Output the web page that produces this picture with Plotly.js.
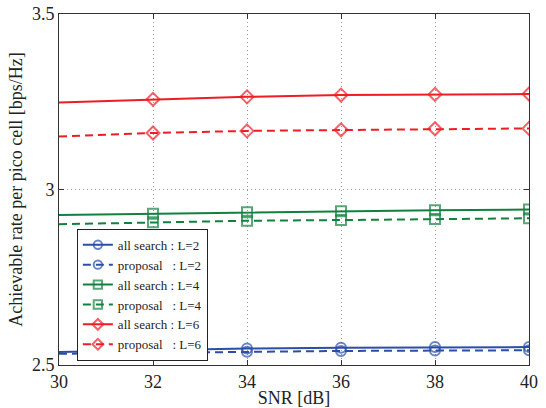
<!DOCTYPE html>
<html>
<head>
<meta charset="utf-8">
<script src="https://cdn.plot.ly/plotly-3.0.1.min.js"></script>
<style>html,body{margin:0;padding:0;background:#fff}#chart{width:546px;height:408px}</style>
</head>
<body>
<div id="chart"></div>
<script>
const snr = [30, 32, 34, 36, 38, 40];
const allSearchL2 = [2.537, 2.543, 2.547, 2.549, 2.551, 2.551];
const proposalL2  = [2.532, 2.535, 2.538, 2.540, 2.541, 2.542];
const allSearchL4 = [2.927, 2.931, 2.935, 2.938, 2.941, 2.943];
const proposalL4  = [2.901, 2.907, 2.911, 2.913, 2.916, 2.918];
const allSearchL6 = [3.248, 3.257, 3.264, 3.269, 3.271, 3.272];
const proposalL6  = [3.151, 3.161, 3.167, 3.170, 3.173, 3.174];
const seriesNames = [
  "all search : L=2", "proposal \u00a0\u00a0: L=2",
  "all search : L=4", "proposal \u00a0\u00a0: L=4",
  "all search : L=6", "proposal \u00a0\u00a0: L=6"
];
const xTicks = [30, 32, 34, 36, 38, 40];
const yTicks = [2.5, 3, 3.5];

const blue = "#2b4ea8", green = "#12813f", red = "#ee1d25";
const msizes = snr.map((v, i) => i === 0 ? 0 : 10);
function tr(y, name, color, dash, symbol) {
  return {
    x: snr, y: y, name: name, type: "scatter", mode: "lines+markers",
    line: {color: color, width: 2, dash: dash},
    marker: {symbol: symbol, size: msizes, color: color, line: {color: color, width: 2}}
  };
}
const DASH = "8px,5px";
const data = [
  tr(allSearchL2, seriesNames[0], blue, "solid", "circle-open"),
  tr(proposalL2, seriesNames[1], blue, DASH, "circle-open"),
  tr(allSearchL4, seriesNames[2], green, "solid", "square-open"),
  tr(proposalL4, seriesNames[3], green, DASH, "square-open"),
  tr(allSearchL6, seriesNames[4], red, "solid", "diamond-open"),
  tr(proposalL6, seriesNames[5], red, DASH, "diamond-open")
];
const FAM = "Liberation Serif";
const font = {family: FAM, size: 18, color: "#222"};
const layout = {
  width: 546, height: 408,
  margin: {l: 59, r: 17, t: 14, b: 43},
  paper_bgcolor: "#fff", plot_bgcolor: "#fff",
  font: font,
  showlegend: true,
  legend: {
    x: 0.038, y: 0.388, xanchor: "left", yanchor: "top",
    bgcolor: "#fff", bordercolor: "#222", borderwidth: 1,
    font: {family: FAM, size: 13, color: "#222"},
    tracegroupgap: 0, itemwidth: 30
  },
  xaxis: {
    range: [30, 40], tickvals: xTicks, ticktext: xTicks.map(String),
    showgrid: true, gridcolor: "#999", griddash: "1px,3px", gridwidth: 1,
    zeroline: false, showline: true, linecolor: "#333", linewidth: 1, mirror: "ticks",
    ticks: "inside", ticklen: 5, tickcolor: "#333",
    title: {text: "SNR [dB]", font: font, standoff: 0},
    tickfont: font
  },
  yaxis: {
    range: [2.5, 3.5], tickvals: yTicks, ticktext: ["2.5", "3", "3.5"],
    showgrid: true, gridcolor: "#999", griddash: "1px,3px", gridwidth: 1,
    zeroline: false, showline: true, linecolor: "#333", linewidth: 1, mirror: "ticks",
    ticks: "inside", ticklen: 5, tickcolor: "#333",
    title: {text: "Achievable rate per pico cell [bps/Hz]", font: font, standoff: 4},
    tickfont: font
  }
};
Plotly.newPlot("chart", data, layout, {displayModeBar: false, staticPlot: true});
</script>
</body>
</html>
